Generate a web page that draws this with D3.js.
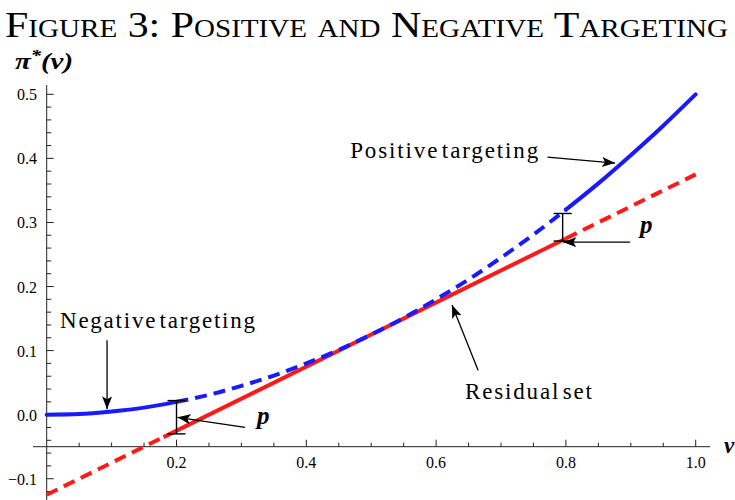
<!DOCTYPE html>
<html><head><meta charset="utf-8">
<script src="https://cdn.jsdelivr.net/npm/d3@7"></script>
<style>body{margin:0;background:#fff}svg{display:block}</style>
</head><body>
<svg id="chart" width="735" height="500"></svg>
<script>
// ---- data ----
const vGrid   = [0,0.05,0.1,0.15,0.2,0.25,0.3,0.35,0.4,0.45,0.5,0.55,0.6,0.65,0.7,0.75,0.8,0.85,0.9,0.95,1.0];
const piStar  = [0,0.001,0.005,0.011,0.02,0.031,0.045,0.061,0.08,0.101,0.125,0.151,0.18,0.211,0.245,0.281,0.32,0.361,0.405,0.451,0.5];
const residualV  = [0, 0.18, 0.8, 1.0];
const residualPi = [-0.125, -0.035, 0.275, 0.375];
const xTickLabels = [0.2,0.4,0.6,0.8,1.0];
const yTickLabels = [-0.1,0,0.1,0.2,0.3,0.4,0.5];
const blueSolidRanges = [[0,0.2],[0.8,1.0]];
const blueDashRanges  = [[0.2,0.8]];
const redSolidRanges  = [[0.18,0.8]];
const redDashRanges   = [[0,0.18],[0.8,1.0]];
const gapBrackets = [{v:0.2, top:0.022, bottom:-0.03},{v:0.795, top:0.314, bottom:0.271}];
const arrowLines = [
  {x1:0.7715,y1:0.402,x2:0.8757,y2:0.3926},
  {x1:0.899,y1:0.2692,x2:0.796,y2:0.2692},
  {x1:0.3056,y1:-0.0198,x2:0.2015,y2:-0.0042},
  {x1:0.093,y1:0.116,x2:0.093,y2:0.0083},
  {x1:0.6647,y1:0.0692,x2:0.6245,y2:0.171}
];
const labelTexts = [
  {text:"Positive targeting", v:0.4676, y:0.40, w:188},
  {text:"Negative targeting", v:0.0205, y:0.136, w:195},
  {text:"Residual set", v:0.6445, y:0.025, w:127}
];
const pLabels = [{v:0.324,y:-0.0152},{v:0.914,y:0.283}];

// ---- drawing ----
const svg = d3.select("#chart");
const x = d3.scaleLinear().domain([0,1]).range([46.7,695.7]);
const y = d3.scaleLinear().domain([-0.05,0.5]).range([446.7,94.3]);
const serif = "'Liberation Serif','Times New Roman',serif";

svg.append("defs").append("marker")
  .attr("id","ah").attr("markerUnits","userSpaceOnUse")
  .attr("markerWidth",16).attr("markerHeight",12)
  .attr("refX",13).attr("refY",5).attr("orient","auto")
  .append("path").attr("d","M0,0 L13,5 L0,10 L3,5 Z").attr("fill","#000");

// title
svg.append("text").attr("x",5).attr("y",37)
  .attr("font-family",serif).attr("font-size",36)
  .style("font-variant","small-caps")
  .attr("textLength",723).attr("lengthAdjust","spacingAndGlyphs")
  .text("Figure 3: Positive and Negative Targeting");

// y label
const yl = svg.append("text").attr("x",15).attr("y",69)
  .attr("font-family",serif).attr("font-size",24)
  .attr("font-weight","bold").attr("font-style","italic")
  .attr("textLength",58).attr("lengthAdjust","spacingAndGlyphs");
yl.append("tspan").text("π");
yl.append("tspan").attr("dy",-8).attr("font-size",17).text("*");
yl.append("tspan").attr("dy",8).text("(v)");

// axes
const axisCol = "#222";
svg.append("line").attr("x1",x(0)).attr("x2",x(0)).attr("y1",85).attr("y2",500)
  .attr("stroke",axisCol).attr("stroke-width",1);
svg.append("line").attr("x1",33).attr("x2",710).attr("y1",y(-0.05)).attr("y2",y(-0.05))
  .attr("stroke",axisCol).attr("stroke-width",1);

// y ticks
const yMinor = d3.range(-12,51,2).map(d=>d/100);
svg.append("g").selectAll("line").data(yMinor).join("line")
  .attr("x1",x(0)).attr("x2",d=> Math.abs(Math.round(d*100)%10)===0 ? x(0)+7 : x(0)+4.5)
  .attr("y1",d=>y(d)).attr("y2",d=>y(d)).attr("stroke",axisCol);
svg.append("g").selectAll("text").data(yTickLabels).join("text")
  .attr("x",37).attr("y",d=>y(d)+6).attr("text-anchor","end")
  .attr("font-family",serif).attr("font-size",16)
  .text(d=> d<0 ? "\u2212"+Math.abs(d).toFixed(1) : d.toFixed(1));

// x ticks
const xMinor = d3.range(1,21).map(d=>d/20);
svg.append("g").selectAll("line").data(xMinor).join("line")
  .attr("x1",d=>x(d)).attr("x2",d=>x(d))
  .attr("y1",y(-0.05)).attr("y2",d=> (Math.round(d*20)%4===0) ? y(-0.05)-7 : y(-0.05)-4)
  .attr("stroke",axisCol);
svg.append("g").selectAll("text").data(xTickLabels).join("text")
  .attr("x",d=>x(d)).attr("y",468).attr("text-anchor","middle")
  .attr("font-family",serif).attr("font-size",16)
  .text(d=>d.toFixed(1));
svg.append("text").attr("x",724).attr("y",453)
  .attr("font-family",serif).attr("font-size",23)
  .attr("font-weight","bold").attr("font-style","italic").text("v");

// curves
const blueData = vGrid.map((v,i)=>({v, p:piStar[i]}));
const redData  = residualV.map((v,i)=>({v, p:residualPi[i]}));
const line = d3.line().x(d=>x(d.v)).y(d=>y(d.p)).curve(d3.curveMonotoneX);
function interpRed(v){
  for(let i=0;i<redData.length-1;i++){
    const a=redData[i], b=redData[i+1];
    if(v>=a.v-1e-9 && v<=b.v+1e-9){return a.p+(b.p-a.p)*(v-a.v)/(b.v-a.v);}
  }
}
function seg(data, r, isRed){
  const pts = data.filter(d=>d.v>=r[0]-1e-9 && d.v<=r[1]+1e-9);
  if(isRed){
    return [{v:r[0],p:interpRed(r[0])}, ...pts.filter(d=>d.v>r[0]+1e-9 && d.v<r[1]-1e-9), {v:r[1],p:interpRed(r[1])}];
  }
  return pts;
}
const lineLin = d3.line().x(d=>x(d.v)).y(d=>y(d.p));
redDashRanges.forEach(r=>svg.append("path").attr("d",lineLin(seg(redData,r,true)))
  .attr("fill","none").attr("stroke","#ff1a1a").attr("stroke-width",4).attr("stroke-dasharray","12,7"));
redSolidRanges.forEach(r=>svg.append("path").attr("d",lineLin(seg(redData,r,true)))
  .attr("fill","none").attr("stroke","#ff1a1a").attr("stroke-width",4));
blueDashRanges.forEach(r=>svg.append("path").attr("d",line(seg(blueData,r,false)))
  .attr("fill","none").attr("stroke","#1a1aff").attr("stroke-width",4).attr("stroke-dasharray","12,7"));
blueSolidRanges.forEach(r=>svg.append("path").attr("d",line(seg(blueData,r,false)))
  .attr("fill","none").attr("stroke","#1a1aff").attr("stroke-width",4).attr("stroke-linecap","round"));

// brackets
const bg = svg.append("g").attr("stroke","#000").attr("stroke-width",1.4);
gapBrackets.forEach(b=>{
  bg.append("line").attr("x1",x(b.v)).attr("x2",x(b.v)).attr("y1",y(b.top)).attr("y2",y(b.bottom));
  bg.append("line").attr("x1",x(b.v)-9).attr("x2",x(b.v)+9).attr("y1",y(b.top)).attr("y2",y(b.top));
  bg.append("line").attr("x1",x(b.v)-9).attr("x2",x(b.v)+9).attr("y1",y(b.bottom)).attr("y2",y(b.bottom));
});

// arrows
svg.append("g").selectAll("line").data(arrowLines).join("line")
  .attr("x1",d=>x(d.x1)).attr("y1",d=>y(d.y1)).attr("x2",d=>x(d.x2)).attr("y2",d=>y(d.y2))
  .attr("stroke","#000").attr("stroke-width",1.3).attr("marker-end","url(#ah)");

// labels
svg.append("g").selectAll("text").data(labelTexts).join("text")
  .attr("x",d=>x(d.v)).attr("y",d=>y(d.y))
  .attr("font-family",serif).attr("font-size",23)
  .style("word-spacing","-5px")
  .attr("textLength",d=>d.w).attr("lengthAdjust","spacing")
  .text(d=>d.text);
svg.append("g").selectAll("text").data(pLabels).join("text")
  .attr("x",d=>x(d.v)).attr("y",d=>y(d.y))
  .attr("font-family",serif).attr("font-size",25)
  .attr("font-weight","bold").attr("font-style","italic").text("p");
</script>
</body></html>
